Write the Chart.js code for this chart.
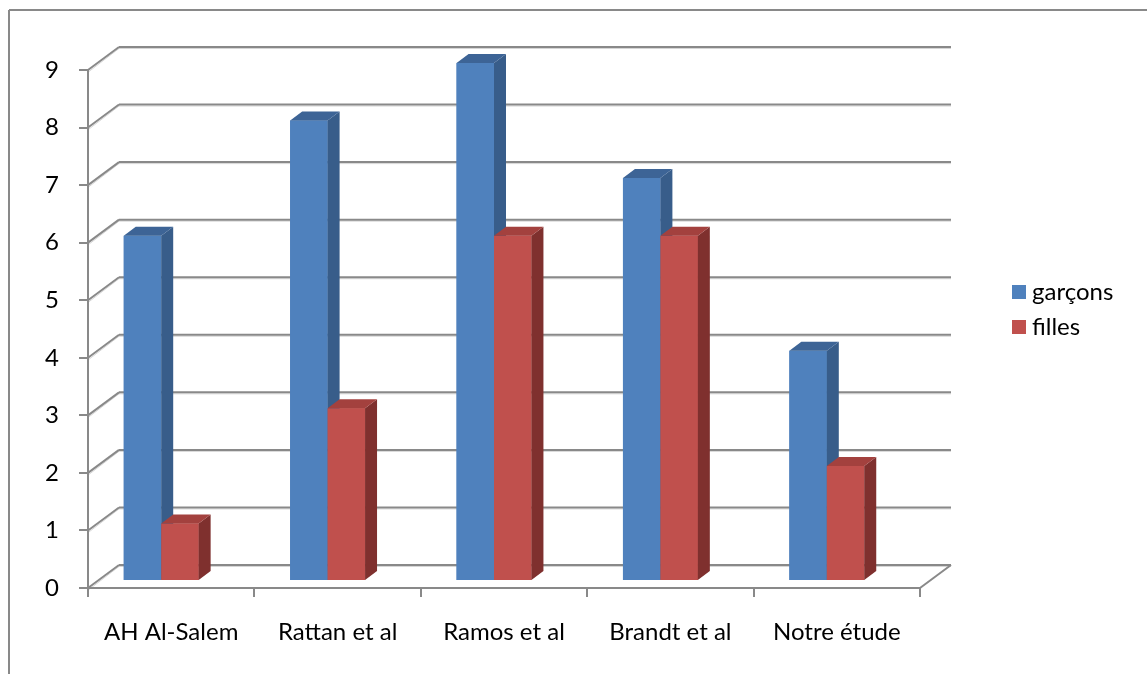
<!DOCTYPE html>
<html>
<head>
<meta charset="utf-8">
<script src="https://cdn.jsdelivr.net/npm/chart.js@4.4.1/dist/chart.umd.min.js"></script>
<style>
  html, body { margin: 0; padding: 0; background: #ffffff; }
  #wrap { width: 1147px; height: 674px; position: relative; }
</style>
</head>
<body>
<div id="wrap"><canvas id="c" width="1147" height="674"></canvas></div>
<script>
// Study names along the category axis
const categories = ['AH Al-Salem', 'Rattan et al', 'Ramos et al', 'Brandt et al', 'Notre étude'];
// Series values
const garcons = [6, 8, 9, 7, 4];
const filles = [1, 3, 6, 6, 2];
const seriesNames = ['garçons', 'filles'];
// Value axis range
const yMin = 0;
const yMax = 9;
const yStep = 1;

// Face colours for each series: front, top, side
const faceColors = [
  { front: '#4F81BD', top: '#3D6496', side: '#385D8A' },
  { front: '#C0504D', top: '#A3413E', side: '#7F302E' }
];

const FONT = 'Lato, "Open Sans", sans-serif';
const FONT_SIZE = 24;
const GRID = '#898989';
const GRID_SOFT = '#D6D6D6';
// Depth of the back wall and of the bar blocks
const WALL_DX = 31, WALL_DY = -23;
const BAR_SHIFT_X = -10, BAR_SHIFT_Y = -7;
const BAR_DX = 12, BAR_DY = -9;

function line(ctx, x1, y1, x2, y2, color, width) {
  ctx.beginPath();
  ctx.strokeStyle = color;
  ctx.lineWidth = width;
  ctx.moveTo(x1, y1);
  ctx.lineTo(x2, y2);
  ctx.stroke();
}

const wallPlugin = {
  id: 'wall3d',
  beforeDraw(chart) {
    const ctx = chart.ctx;
    const xs = chart.scales.x, ys = chart.scales.y;
    ctx.save();
    // outer frame
    line(ctx, 9, 10, 1147, 10, GRID, 2);
    line(ctx, 9, 10, 9, 674, GRID, 2);
    const left = xs.left, right = xs.right;
    for (let v = yMin; v <= yMax; v += yStep) {
      const y = ys.getPixelForValue(v);
      // back wall gridline
      line(ctx, left + WALL_DX, y + WALL_DY + 1.5, right + WALL_DX, y + WALL_DY + 1.5, GRID_SOFT, 1);
      line(ctx, left + WALL_DX, y + WALL_DY, right + WALL_DX, y + WALL_DY, GRID, 2);
      // side wall connector
      line(ctx, left + 1, y + 1.5, left + WALL_DX, y + WALL_DY + 1.5, GRID_SOFT, 1);
      line(ctx, left, y, left + WALL_DX, y + WALL_DY, GRID, 2);
    }
    // floor right edge
    const y0 = ys.getPixelForValue(yMin);
    line(ctx, right, y0, right + WALL_DX, y0 + WALL_DY, GRID, 2);
    ctx.restore();
  },
  beforeDatasetsDraw(chart) {
    chart.ctx.save();
    chart.ctx.translate(BAR_SHIFT_X, BAR_SHIFT_Y);
  },
  afterDatasetsDraw(chart) {
    const ctx = chart.ctx;
    const metas = chart.data.datasets.map((ds, i) => chart.getDatasetMeta(i));
    // draw each block front-to-side in category order so neighbours overlap correctly
    categories.forEach((c, ci) => {
      metas.forEach((meta, di) => {
        const bar = meta.data[ci];
        if (!bar) return;
        const col = faceColors[di];
        bar.draw(ctx);
        const p = bar.getProps(['x', 'y', 'base', 'width'], true);
        const l = p.x - p.width / 2, r = p.x + p.width / 2;
        const top = p.y, base = p.base;
        // side face
        ctx.beginPath();
        ctx.moveTo(r, top);
        ctx.lineTo(r + BAR_DX, top + BAR_DY);
        ctx.lineTo(r + BAR_DX, base + BAR_DY);
        ctx.lineTo(r, base);
        ctx.closePath();
        ctx.fillStyle = col.side;
        ctx.fill();
        // top face
        ctx.beginPath();
        ctx.moveTo(l, top);
        ctx.lineTo(l + BAR_DX, top + BAR_DY);
        ctx.lineTo(r + BAR_DX, top + BAR_DY);
        ctx.lineTo(r, top);
        ctx.closePath();
        ctx.fillStyle = col.top;
        ctx.fill();
      });
    });
    ctx.restore();
  },
  afterDraw(chart) {
    // legend
    const ctx = chart.ctx;
    ctx.save();
    ctx.font = FONT_SIZE + 'px ' + FONT;
    ctx.textBaseline = 'middle';
    chart.data.datasets.forEach((ds, i) => {
      const yc = 292 + i * 35;
      ctx.fillStyle = faceColors[i].front;
      ctx.fillRect(1012, yc - 7, 14, 14);
      ctx.fillStyle = '#000';
      ctx.fillText(ds.label, 1032, yc);
    });
    ctx.restore();
  }
};

new Chart(document.getElementById('c'), {
  type: 'bar',
  data: {
    labels: categories,
    datasets: [
      { label: seriesNames[0], data: garcons, backgroundColor: faceColors[0].front, clip: false },
      { label: seriesNames[1], data: filles, backgroundColor: faceColors[1].front, clip: false }
    ]
  },
  options: {
    responsive: false,
    animation: false,
    devicePixelRatio: 1,
    layout: { padding: { left: 0, top: 70, right: 227, bottom: 0 } },
    datasets: { bar: { categoryPercentage: 0.45, barPercentage: 1, borderWidth: 0 } },
    plugins: {
      legend: { display: false },
      tooltip: { enabled: false }
    },
    scales: {
      x: {
        afterFit(scale) { scale.height = 86; },
        grid: { display: true, drawOnChartArea: false, drawTicks: true, tickLength: 9, color: GRID, lineWidth: 2, offset: true },
        border: { display: true, color: GRID, width: 2 },
        ticks: { color: '#000', font: { family: FONT, size: FONT_SIZE }, padding: 21, maxRotation: 0 }
      },
      y: {
        min: yMin, max: yMax,
        afterFit(scale) { scale.width = 88; },
        grid: { display: true, drawOnChartArea: false, drawTicks: true, tickLength: 9, color: GRID, lineWidth: 2 },
        border: { display: true, color: GRID, width: 2 },
        ticks: { stepSize: yStep, color: '#000', font: { family: FONT, size: FONT_SIZE }, padding: 20 }
      }
    }
  },
  plugins: [wallPlugin]
});
</script>
</body>
</html>
